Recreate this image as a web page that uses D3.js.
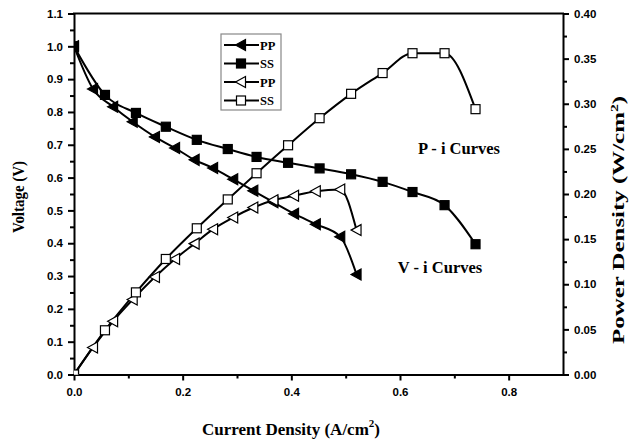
<!DOCTYPE html>
<html>
<head>
<meta charset="utf-8">
<script src="https://cdn.jsdelivr.net/npm/d3@7"></script>
<style>
  html, body { margin: 0; padding: 0; background: #fff; }
  svg { display: block; }
</style>
</head>
<body>
<svg id="chart" width="629" height="441"></svg>
<script>
// Current density (A/cm2) and voltage (V) for the two cells
const ppCurrent = [0, 0.035, 0.072, 0.108, 0.149, 0.186, 0.222, 0.256, 0.293, 0.330, 0.367, 0.405, 0.445, 0.490, 0.520];
const ppVoltage = [1.0, 0.870, 0.816, 0.770, 0.724, 0.690, 0.654, 0.629, 0.595, 0.560, 0.525, 0.490, 0.458, 0.420, 0.305];
const ssCurrent = [0, 0.057, 0.114, 0.169, 0.226, 0.283, 0.336, 0.394, 0.452, 0.510, 0.568, 0.623, 0.682, 0.739];
const ssVoltage = [1.0, 0.852, 0.797, 0.755, 0.715, 0.687, 0.663, 0.645, 0.628, 0.610, 0.587, 0.556, 0.516, 0.397];

// Power density (W/cm2)
const ppPower = [0, 0.030, 0.059, 0.083, 0.108, 0.128, 0.145, 0.161, 0.174, 0.185, 0.193, 0.198, 0.203, 0.205, 0.160];
const ssPower = [0, 0.049, 0.091, 0.128, 0.162, 0.194, 0.223, 0.254, 0.284, 0.311, 0.334, 0.356, 0.356, 0.294];

const xTicks = [0, 0.2, 0.4, 0.6, 0.8];
const voltageTicks = [0, 0.1, 0.2, 0.3, 0.4, 0.5, 0.6, 0.7, 0.8, 0.9, 1.0, 1.1];
const powerTicks = [0, 0.05, 0.10, 0.15, 0.20, 0.25, 0.30, 0.35, 0.40];
const legendLabels = ["PP", "SS", "PP", "SS"];

const svg = d3.select("#chart");
const plotLeft = 74, plotRight = 563, plotTop = 13.5, plotBottom = 374.5;

const x = d3.scaleLinear().domain([0, 0.9]).range([plotLeft, plotRight]);
const yV = d3.scaleLinear().domain([0, 1.1]).range([plotBottom, plotTop]);
const yP = d3.scaleLinear().domain([0, 0.40]).range([plotBottom, plotTop]);

const tickFont = "bold 11.5px 'Liberation Sans', Arial, sans-serif";
const serifBold = "'Liberation Serif', 'Times New Roman', serif";

function styleAxis(g) {
  g.select(".domain").attr("stroke", "#000").attr("stroke-width", 2);
  g.selectAll(".tick line").attr("stroke", "#000").attr("stroke-width", 2);
  g.selectAll(".tick text").style("font", tickFont).attr("fill", "#000");
}
function styleMinor(g) {
  g.select(".domain").remove();
  g.selectAll(".tick line").attr("stroke", "#000").attr("stroke-width", 2);
  g.selectAll(".tick text").remove();
}

// minor ticks
svg.append("g").attr("transform", `translate(0,${plotBottom})`)
  .call(d3.axisBottom(x).tickValues(d3.range(0.1, 0.9, 0.2)).tickSize(4).tickFormat(""))
  .call(styleMinor);
svg.append("g").attr("transform", `translate(${plotLeft},0)`)
  .call(d3.axisLeft(yV).tickValues(d3.range(0.05, 1.1, 0.1)).tickSize(4).tickFormat(""))
  .call(styleMinor);
svg.append("g").attr("transform", `translate(${plotRight},0)`)
  .call(d3.axisRight(yP).tickValues(d3.range(0.025, 0.4, 0.05)).tickSize(4).tickFormat(""))
  .call(styleMinor);

// major axes
svg.append("g").attr("transform", `translate(0,${plotBottom})`)
  .call(d3.axisBottom(x).tickValues(xTicks).tickSize(6).tickSizeOuter(0).tickPadding(7).tickFormat(d3.format(".1f")))
  .call(styleAxis);
svg.append("g").attr("transform", `translate(${plotLeft},0)`)
  .call(d3.axisLeft(yV).tickValues(voltageTicks).tickSize(6).tickSizeOuter(0).tickPadding(5).tickFormat(d3.format(".1f")))
  .call(styleAxis);
svg.append("g").attr("transform", `translate(${plotRight},0)`)
  .call(d3.axisRight(yP).tickValues(powerTicks).tickSize(6).tickSizeOuter(0).tickPadding(5).tickFormat(d3.format(".2f")))
  .call(styleAxis);

// top frame line
svg.append("line").attr("x1", plotLeft - 1).attr("x2", plotRight + 1).attr("y1", plotTop).attr("y2", plotTop)
  .attr("stroke", "#000").attr("stroke-width", 2);

// axis titles
svg.append("text").attr("transform", `translate(24,197) rotate(-90)`)
  .attr("text-anchor", "middle").attr("textLength", 72).attr("lengthAdjust", "spacingAndGlyphs")
  .style("font", `bold 16px ${serifBold}`).text("Voltage (V)");

const pTitle = svg.append("text").attr("transform", `translate(624,220) rotate(-90)`)
  .attr("text-anchor", "middle").attr("textLength", 248).attr("lengthAdjust", "spacingAndGlyphs")
  .style("font", `bold 16px ${serifBold}`);
pTitle.append("tspan").text("Power Density (W/cm");
pTitle.append("tspan").attr("dy", -6).style("font-size", "10px").text("2");
pTitle.append("tspan").attr("dy", 6).text(")");

const xTitle = svg.append("text").attr("x", 291).attr("y", 435)
  .attr("text-anchor", "middle").style("font", `bold 17px ${serifBold}`);
xTitle.append("tspan").text("Current Density (A/cm");
xTitle.append("tspan").attr("dy", -8).style("font-size", "11px").text("2");
xTitle.append("tspan").attr("dy", 8).text(")");

// annotations
svg.append("text").attr("x", 459).attr("y", 154).attr("text-anchor", "middle")
  .style("font", `bold 16.5px ${serifBold}`).text("P - i Curves");
svg.append("text").attr("x", 440).attr("y", 273).attr("text-anchor", "middle")
  .style("font", `bold 16.5px ${serifBold}`).text("V - i Curves");

// markers
const triPath = "M-5.5,0L4.5,-5.5L4.5,5.5Z";
function drawMarker(g, shape, filled) {
  if (shape === "tri") {
    g.append("path").attr("d", triPath)
      .attr("fill", filled ? "#000" : "#fff").attr("stroke", "#000").attr("stroke-width", 1.2);
  } else {
    g.append("rect").attr("x", -4.5).attr("y", -4.5).attr("width", 9).attr("height", 9)
      .attr("fill", filled ? "#000" : "#fff").attr("stroke", "#000").attr("stroke-width", 1.2);
  }
}

svg.append("defs").append("clipPath").attr("id", "plotClip")
  .append("rect").attr("x", plotLeft).attr("y", plotTop - 6)
  .attr("width", plotRight - plotLeft + 6).attr("height", plotBottom - plotTop + 6);

const plot = svg.append("g").attr("clip-path", "url(#plotClip)");

const series = [
  { xs: ppCurrent, ys: ppVoltage, scale: yV, shape: "tri", filled: true },
  { xs: ssCurrent, ys: ssVoltage, scale: yV, shape: "sq", filled: true },
  { xs: ppCurrent, ys: ppPower, scale: yP, shape: "tri", filled: false },
  { xs: ssCurrent, ys: ssPower, scale: yP, shape: "sq", filled: false }
];

series.forEach(s => {
  const pts = s.xs.map((v, i) => [v, s.ys[i]]);
  const line = d3.line().x(d => x(d[0])).y(d => s.scale(d[1])).curve(d3.curveMonotoneX);
  plot.append("path").attr("d", line(pts)).attr("fill", "none")
    .attr("stroke", "#000").attr("stroke-width", 2);
});
series.forEach(s => {
  s.xs.forEach((v, i) => {
    const g = plot.append("g").attr("transform", `translate(${x(v)},${s.scale(s.ys[i])})`);
    drawMarker(g, s.shape, s.filled);
  });
});

// legend
const lg = svg.append("g");
lg.append("rect").attr("x", 221).attr("y", 34).attr("width", 60).attr("height", 76)
  .attr("fill", "#fff").attr("stroke", "#888").attr("stroke-width", 1.2);
series.forEach((s, i) => {
  const cy = 45 + i * 18.5;
  lg.append("line").attr("x1", 224).attr("x2", 259).attr("y1", cy).attr("y2", cy)
    .attr("stroke", "#000").attr("stroke-width", 2);
  const g = lg.append("g").attr("transform", `translate(241,${cy})`);
  drawMarker(g, s.shape, s.filled);
  lg.append("text").attr("x", 260).attr("y", cy + 4.5).style("font", `bold 12.5px ${serifBold}`).text(legendLabels[i]);
});
</script>
</body>
</html>
